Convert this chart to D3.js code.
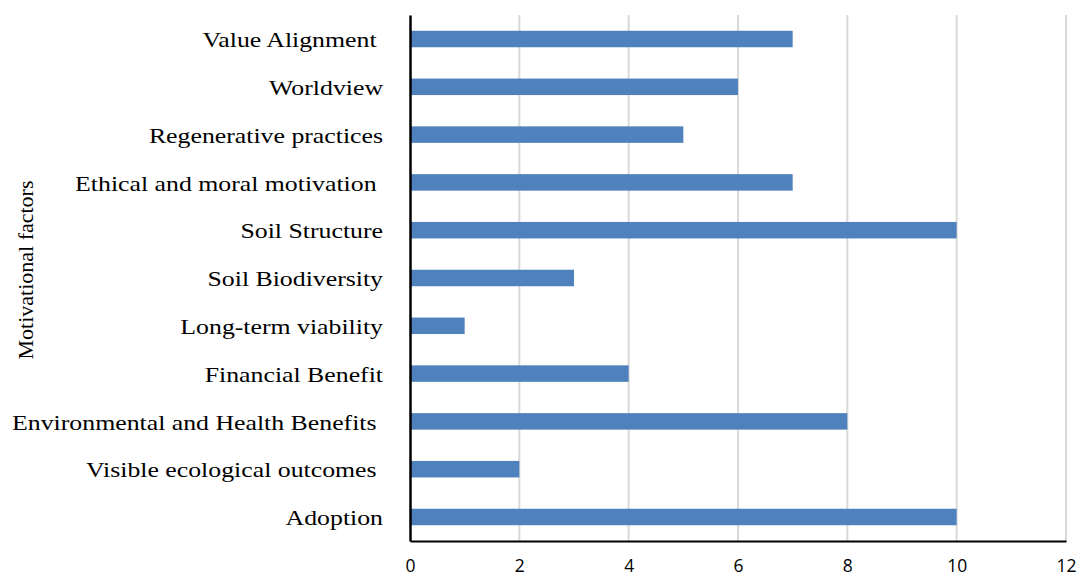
<!DOCTYPE html>
<html>
<head>
<meta charset="utf-8">
<script src="https://cdn.jsdelivr.net/npm/d3@7"></script>
<style>
  html, body { margin: 0; padding: 0; background: #fff; }
  svg { display: block; }
</style>
</head>
<body>
<svg id="chart" width="1081" height="578"></svg>
<script>
// Motivational factors, listed top to bottom
const categories = [
  "Value Alignment ",
  "Worldview",
  "Regenerative practices",
  "Ethical and moral motivation ",
  "Soil Structure",
  "Soil Biodiversity",
  "Long-term viability",
  "Financial Benefit",
  "Environmental and Health Benefits ",
  "Visible ecological outcomes ",
  "Adoption"
];
const counts = [7, 6, 5, 7, 10, 3, 1, 4, 8, 2, 10];
const xTicks = [0, 2, 4, 6, 8, 10, 12];
const yTitle = "Motivational factors";

const svg = d3.select("#chart");
const plot = { left: 410, right: 1066, top: 15, bottom: 541 };

const x = d3.scaleLinear().domain([0, 12]).range([plot.left, plot.right]);
const y = d3.scaleBand().domain(categories).range([plot.top, plot.bottom]).paddingInner(0.655).paddingOuter(0.33);

// vertical gridlines
svg.append("g")
  .selectAll("line")
  .data(xTicks.filter(d => d > 0))
  .join("line")
  .attr("x1", d => x(d)).attr("x2", d => x(d))
  .attr("y1", plot.top).attr("y2", plot.bottom)
  .attr("stroke", "#d9d9d9")
  .attr("stroke-width", 2);

// bars
svg.append("g")
  .selectAll("rect")
  .data(categories.map((c, i) => ({ c, v: counts[i] })))
  .join("rect")
  .attr("x", x(0))
  .attr("y", d => y(d.c))
  .attr("width", d => x(d.v) - x(0))
  .attr("height", y.bandwidth())
  .attr("fill", "#4f81bd");

// x axis
const xAxis = svg.append("g")
  .attr("transform", `translate(0,${plot.bottom})`)
  .call(d3.axisBottom(x).tickValues(xTicks).tickSize(0).tickPadding(19));
xAxis.select(".domain").attr("stroke", "#000").attr("stroke-width", 2);
xAxis.selectAll("text")
  .attr("font-family", "'Open Sans', 'Liberation Sans', sans-serif")
  .attr("font-size", 17.5)
  .attr("fill", "#000");

// y axis: category labels are set in a horizontally widened serif face
const stretch = 1.2;
const labelGap = 27;
const yAxis = svg.append("g")
  .attr("transform", `translate(${plot.left},0)`)
  .call(d3.axisLeft(y).tickSize(0).tickPadding(labelGap));
yAxis.select(".domain").attr("stroke", "#000").attr("stroke-width", 2.5);
yAxis.selectAll("text")
  .attr("font-family", "'Liberation Serif', 'Times New Roman', serif")
  .attr("font-size", 21.5)
  .attr("x", -labelGap / stretch)
  .attr("transform", `scale(${stretch},1)`)
  .attr("dy", "0.38em")
  .attr("fill", "#000")
  .style("white-space", "pre");

// y axis title
svg.append("text")
  .attr("transform", `translate(33,270) rotate(-90)`)
  .attr("text-anchor", "middle")
  .attr("font-family", "'Liberation Serif', 'Times New Roman', serif")
  .attr("font-size", 22)
  .attr("fill", "#000")
  .text(yTitle);
</script>
</body>
</html>
